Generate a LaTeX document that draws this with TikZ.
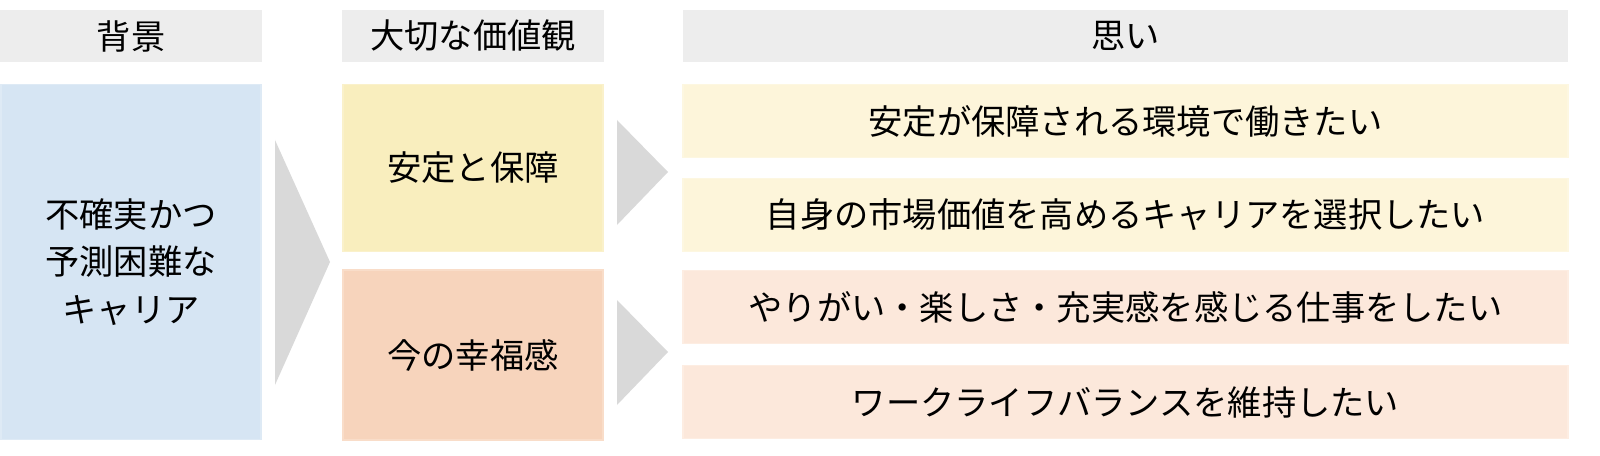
\documentclass[tikz,border=0pt]{standalone}
\usepackage{fontspec}
\setmainfont{Noto Sans CJK JP}
\definecolor{hdgray}{HTML}{EDEDED}
\definecolor{bgblue}{HTML}{D6E5F3}
\definecolor{valyel}{HTML}{F9EEBE}
\definecolor{valora}{HTML}{F7D4BC}
\definecolor{wyel}{HTML}{FDF5DA}
\definecolor{wora}{HTML}{FCE8DB}
\definecolor{arrgray}{HTML}{D9D9D9}
\tikzset{
  box/.style={draw=#1!80!white, fill=#1, line width=1pt, inner sep=0pt, align=center},
  hdr/.style={fill=hdgray, inner sep=0pt},
}
\begin{document}
\begin{tikzpicture}[x=0.02cm,y=-0.02cm,font=\fontsize{19.5}{27}\selectfont]
\useasboundingbox (0,0) rectangle (1600,456);
% headers
\node[hdr, minimum width=5.24cm, minimum height=1.04cm] (h1) at (131,36) {背景};
\node[hdr, minimum width=5.24cm, minimum height=1.04cm] (h2) at (473,36) {大切な価値観};
\node[hdr, minimum width=17.7cm, minimum height=1.04cm] (h3) at (1125.5,36) {思い};
% background
\node[box=bgblue, minimum width=5.2cm, minimum height=7.1cm] (bg) at (131,262) {不確実かつ\\予測困難な\\キャリア};
\fill[arrgray] (275,140) -- (330,262) -- (275,385) -- cycle;
% values
\node[box=valyel, minimum width=5.2cm, minimum height=3.34cm] (v1) at (473,168) {安定と保障};
\node[box=valora, minimum width=5.2cm, minimum height=3.4cm] (v2) at (473,355) {今の幸福感};
\fill[arrgray] (617,120) -- (668,172) -- (617,225) -- cycle;
\fill[arrgray] (617,300) -- (668,352) -- (617,405) -- cycle;
% wishes
\node[box=wyel, minimum width=17.7cm, minimum height=1.46cm] (w1) at (1125.5,121) {安定が保障される環境で働きたい};
\node[box=wyel, minimum width=17.7cm, minimum height=1.46cm] (w2) at (1125.5,215) {自身の市場価値を高めるキャリアを選択したい};
\node[box=wora, minimum width=17.7cm, minimum height=1.46cm] (w3) at (1125.5,307) {やりがい・楽しさ・充実感を感じる仕事をしたい};
\node[box=wora, minimum width=17.7cm, minimum height=1.46cm] (w4) at (1125.5,402) {ワークライフバランスを維持したい};
\end{tikzpicture}
\end{document}
